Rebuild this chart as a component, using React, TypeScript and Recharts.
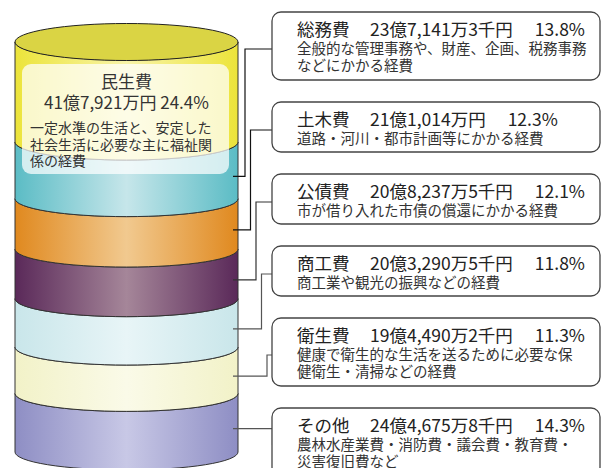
import React from "react";
import { BarChart, Bar, XAxis, YAxis } from "recharts";

// top-to-bottom order of the cylinder
const CATEGORIES = ["民生費", "総務費", "土木費", "公債費", "商工費", "衛生費", "その他"];
const AMOUNTS = [
  "41億7,921万円",
  "23億7,141万3千円",
  "21億1,014万円",
  "20億8,237万5千円",
  "20億3,290万5千円",
  "19億4,490万2千円",
  "24億4,675万8千円",
];
const SHARES = [24.4, 13.8, 12.3, 12.1, 11.8, 11.3, 14.3];
const NOTES = [
  ["一定水準の生活と、安定した", "社会生活に必要な主に福祉関", "係の経費"],
  ["全般的な管理事務や、財産、企画、税務事務", "などにかかる経費"],
  ["道路・河川・都市計画等にかかる経費"],
  ["市が借り入れた市債の償還にかかる経費"],
  ["商工業や観光の振興などの経費"],
  ["健康で衛生的な生活を送るために必要な保", "健衛生・清掃などの経費"],
  ["農林水産業費・消防費・議会費・教育費・", "災害復旧費など"],
];

const EDGE_COLORS = ["#ece43a", "#5bbcc5", "#e0891f", "#5a2959", "#c9e6ea", "#f2f2c8", "#8e8ec4"];
const MID_COLORS = ["#f8f4a8", "#c6e6ea", "#f1c98f", "#a58699", "#e8f5f7", "#fafae8", "#c8c8e6"];
const LEADER_COLORS = ["#111", "#111", "#333", "#555", "#555", "#555"];
const TOP_FACE = "#dad444";

const FONT = "'Noto Sans CJK JP', sans-serif";

const RY = 18;
const BOX_X = 272;
const BOX_W = 328;

const row: Record<string, any> = { name: "歳出" };
CATEGORIES.forEach((c, i) => (row[c] = SHARES[i]));

// right-hand boxes stacked with a fixed gap, height from line count
const boxes: { y: number; h: number }[] = [];
{
  let y = 12;
  for (let i = 1; i < CATEGORIES.length; i++) {
    const h = 32 + 18 * NOTES[i].length;
    boxes.push({ y, h });
    y += h + 22;
  }
}

function Segment(props: any) {
  const { x, y, width, height, k } = props;
  const rx = width / 2;
  const cx = x + rx;
  const yB = y + height;
  const gid = `cyl-grad-${k}`;
  const d = `M${x},${y} A${rx},${RY} 0 0 0 ${x + width},${y} L${x + width},${yB} A${rx},${RY} 0 0 1 ${x},${yB} Z`;

  let extra: React.ReactNode = null;
  if (k === 0) {
    extra = (
      <g fontFamily={FONT} fill="#333">
        <ellipse cx={cx} cy={y} rx={rx} ry={RY + 0.5} fill={TOP_FACE} stroke="#222" strokeWidth={1} />
        <rect x={x + 7} y={y + 22} width={width - 16} height={110} rx={9} fill="#fff" fillOpacity={0.72} />
        <text x={cx} y={y + 46} textAnchor="middle" fontSize={17}>
          {CATEGORIES[0]}
        </text>
        <text x={cx} y={y + 67} textAnchor="middle" fontSize={17}>
          {`${AMOUNTS[0]} ${SHARES[0].toFixed(1)}%`}
        </text>
        {NOTES[0].map((t, i) => (
          <text key={i} x={x + 15} y={y + 91 + 16.5 * i} fontSize={14}>
            {t}
          </text>
        ))}
      </g>
    );
  } else {
    const j = k - 1;
    const b = boxes[j];
    const segY = y + height / 2 + 6;
    const targetY = b.y + b.h / 2 + 3;
    const sx = x + width - 5;
    const ex = x + width + 7 + j * 5.5;
    const pts =
      Math.abs(segY - targetY) < 16
        ? `${sx},${segY} ${BOX_X},${segY}`
        : `${sx},${segY} ${ex},${segY} ${ex},${targetY} ${BOX_X},${targetY}`;
    extra = (
      <g fontFamily={FONT}>
        <polyline points={pts} fill="none" stroke={LEADER_COLORS[j]} strokeWidth={1.2} />
        <rect x={BOX_X} y={b.y} width={BOX_W} height={b.h} rx={9} fill="#fff" stroke="#444" strokeWidth={1.3} />
        <text y={b.y + 24} fontSize={17.5} fill="#222">
          <tspan x={BOX_X + 25}>{CATEGORIES[k]}</tspan>
          <tspan x={BOX_X + 98}>{AMOUNTS[k]}</tspan>
          <tspan dx={22}>{`${SHARES[k].toFixed(1)}%`}</tspan>
        </text>
        {NOTES[k].map((t, i) => (
          <text key={i} x={BOX_X + 25} y={b.y + 42 + 17 * i} fontSize={14.5} fill="#333">
            {t}
          </text>
        ))}
      </g>
    );
  }

  return (
    <g>
      <defs>
        <linearGradient id={gid} x1="0" y1="0" x2="1" y2="0">
          <stop offset="0%" stopColor={EDGE_COLORS[k]} />
          <stop offset="50%" stopColor={MID_COLORS[k]} />
          <stop offset="100%" stopColor={EDGE_COLORS[k]} />
        </linearGradient>
      </defs>
      <path d={d} fill={`url(#${gid})`} stroke="#333" strokeWidth={1} />
      {extra}
    </g>
  );
}

export default function App() {
  const order = CATEGORIES.map((_, i) => i).reverse(); // bottom of stack first
  return (
    <div style={{ position: "absolute", left: 0, top: 0, background: "#fff" }}>
      <BarChart
        width={606}
        height={468}
        data={[row]}
        margin={{ top: 42, right: 368, bottom: 16, left: 15 }}
        barCategoryGap={0}
      >
        <XAxis dataKey="name" hide />
        <YAxis type="number" domain={[0, "dataMax"]} hide />
        {order.map((k) => (
          <Bar
            key={CATEGORIES[k]}
            dataKey={CATEGORIES[k]}
            stackId="cyl"
            isAnimationActive={false}
            shape={(p: any) => <Segment {...p} k={k} />}
          />
        ))}
      </BarChart>
    </div>
  );
}
